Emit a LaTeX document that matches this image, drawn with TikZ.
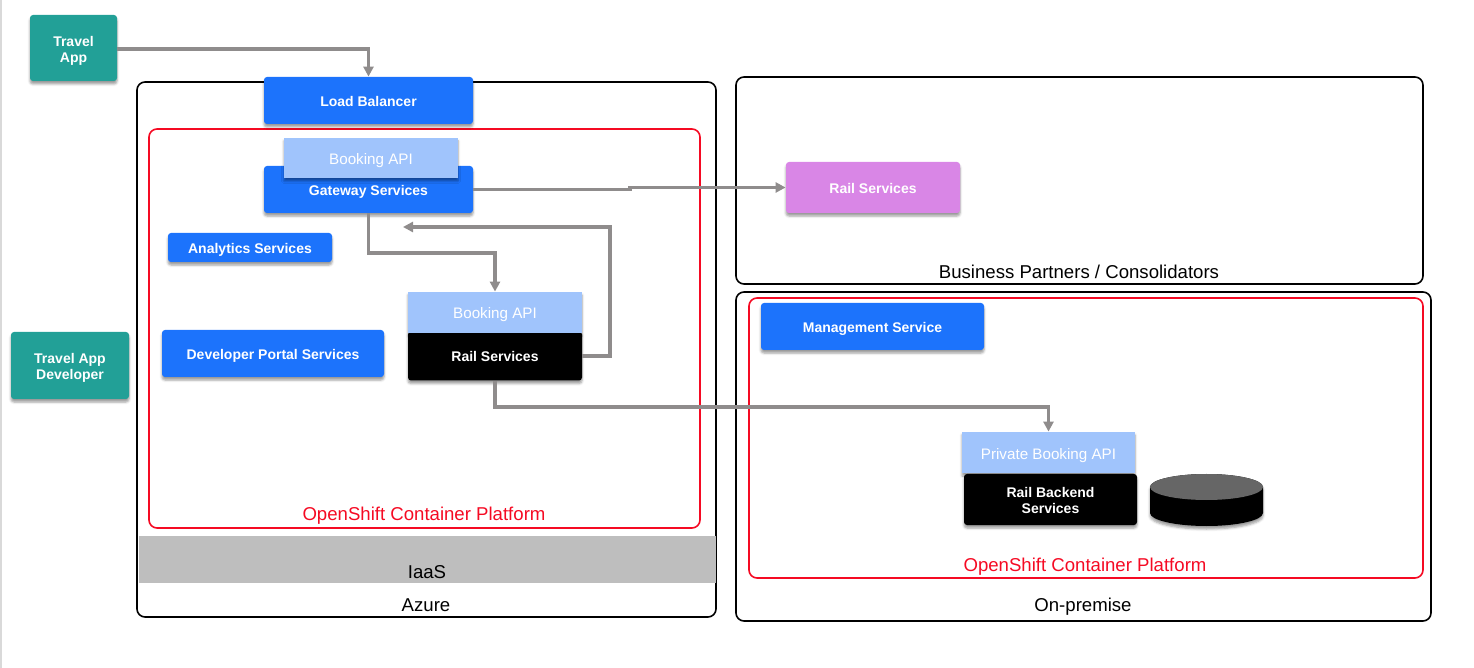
\documentclass[tikz,border=0pt]{standalone}
\usepackage{fontspec}
\setmainfont{Liberation Sans}
\usetikzlibrary{arrows.meta,positioning,shapes.geometric,shadows.blur}
\definecolor{teal}{RGB}{34,160,151}
\definecolor{azureblue}{RGB}{28,115,252}
\definecolor{apiblue}{RGB}{160,196,252}
\definecolor{partner}{RGB}{217,134,230}
\definecolor{platform}{RGB}{245,10,35}
\definecolor{link}{RGB}{143,140,140}
\definecolor{iaas}{RGB}{190,190,190}
\definecolor{disk}{RGB}{102,102,102}
\newcommand{\toppad}[1]{\rule{0pt}{#1}}

\begin{document}
\begin{tikzpicture}[
x=0.5pt, y=-0.5pt,
softshadow/.style={blur shadow={shadow xshift=0pt, shadow yshift=-1.5pt, shadow blur radius=1.2pt, shadow opacity=40}},
card/.style={rectangle, rounded corners=1.5pt, inner sep=0pt, align=center, text=white, font=\fontsize{7}{8}\selectfont\bfseries, softshadow},
oneline/.style={text height=5.6pt, text depth=0pt},
appbox/.style={card, fill=teal},
svcbox/.style={card, oneline, fill=azureblue},
railbox/.style={card, fill=black},
apibox/.style={rectangle, inner sep=0pt, text=white, fill=apiblue, text height=6.5pt, text depth=0pt, font=\fontsize{7.6}{9}\selectfont, softshadow},
zone/.style={draw=black, line width=0.8pt, rounded corners=4pt},
redzone/.style={draw=platform, line width=0.8pt, rounded corners=4pt},
caption/.style={inner sep=0pt, font=\fontsize{9.3}{11}\selectfont},
redcaption/.style={caption, text=platform},
wire/.style={draw=link, line width=1.6pt, -{Triangle[length=5pt,width=5pt]}}
]
\useasboundingbox (0,0) rectangle (1474,668);
\fill[black!15] (0,0) rectangle (2,668);
% outer boxes
\node[zone, inner sep=0pt, minimum width=289.5pt, minimum height=267.5pt] (azure) at (426.5,349.5) {};
\node[zone, inner sep=0pt, minimum width=343.5pt, minimum height=103.5pt] (partners) at (1079.5,180.5) {};
\node[zone, inner sep=0pt, minimum width=347.5pt, minimum height=164.5pt] (onprem) at (1083.5,456.5) {};
\node[redzone, inner sep=0pt, minimum width=275.5pt, minimum height=199.5pt] (ocpazure) at (424.5,328.5) {};
\node[redzone, inner sep=0pt, minimum width=337pt, minimum height=140pt] (ocponprem) at (1086,438) {};
\node[rectangle, fill=iaas, inner sep=0pt, minimum width=288.5pt, minimum height=23.5pt] (iaasbar) at (427.5,559.5) {};
% captions
\node[caption] (iaaslabel) at (427,572) {IaaS};
\node[caption] (azurelabel) at (426,605) {Azure};
\node[caption] (partnerslabel) at (1079,272) {Business Partners / Consolidators};
\node[caption] (onpremlabel) at (1083,607) {On-premise};
\node[redcaption] (ocpazurelabel) at (424,516) {OpenShift Container Platform};
\node[redcaption] (ocponpremlabel) at (1085,567) {OpenShift Container Platform};
% services
\node[appbox, minimum width=43.5pt, minimum height=33pt] (travelapp) at (73.5,48) {\toppad{8pt}Travel\\App};
\node[appbox, minimum width=59pt, minimum height=33.5pt] (developer) at (70,365.5) {\toppad{7pt}Travel App\\Developer};
\node[svcbox, minimum width=104.5pt, minimum height=23.5pt] (balancer) at (368.5,100.5) {Load Balancer};
\node[svcbox, minimum width=104.5pt, minimum height=23.5pt] (gateway) at (368.5,189.5) {Gateway Services};
\node[apibox, minimum width=87pt, minimum height=20pt] (gatewayapi) at (371,158) {Booking API};
\node[svcbox, minimum width=82pt, minimum height=14.5pt] (analytics) at (250,247.5) {Analytics Services};
\node[svcbox, minimum width=111pt, minimum height=23.5pt] (portal) at (273,353.5) {Developer Portal Services};
\node[railbox, oneline, minimum width=87pt, minimum height=24.5pt] (rail) at (495,356) {Rail Services};
\node[apibox, minimum width=87pt, minimum height=20.5pt] (railapi) at (495,312.5) {Booking API};
\node[card, oneline, fill=partner, minimum width=87pt, minimum height=25.5pt] (partnerrail) at (873,187.5) {Rail Services};
\node[svcbox, minimum width=111.5pt, minimum height=23.5pt] (management) at (872.5,326.5) {Management Service};
\node[railbox, minimum width=86.5pt, minimum height=25.5pt] (backend) at (1050.5,499.5) {\toppad{6pt}Rail Backend\\Services};
\node[apibox, minimum width=86.5pt, minimum height=20.5pt] (privateapi) at (1048.5,452.5) {Private Booking API};
% database
\fill[black, softshadow] (1150,487) -- (1150,513) arc[start angle=180, end angle=360, x radius=28.25pt, y radius=6.5pt] -- (1263,487) arc[start angle=0, end angle=180, x radius=28.25pt, y radius=6.5pt] -- cycle;
\fill[disk] (1206.5,487) ellipse[x radius=28.25pt, y radius=6.5pt];
% connectors
\coordinate (railreturn) at (403,227);
\draw[wire] (travelapp.east |- 0,49) -| (balancer.north);
\draw[wire] (gateway.east) -- (630,189.5) |- (partnerrail.west);
\draw[wire] (gateway.south) -- (gateway.south |- 0,253) -| (railapi.north);
\draw[wire] (rail.east) -| (610,227) -- (railreturn);
\draw[wire] (rail.south) -- (495,407) -| (privateapi.north);
\end{tikzpicture}
\end{document}
